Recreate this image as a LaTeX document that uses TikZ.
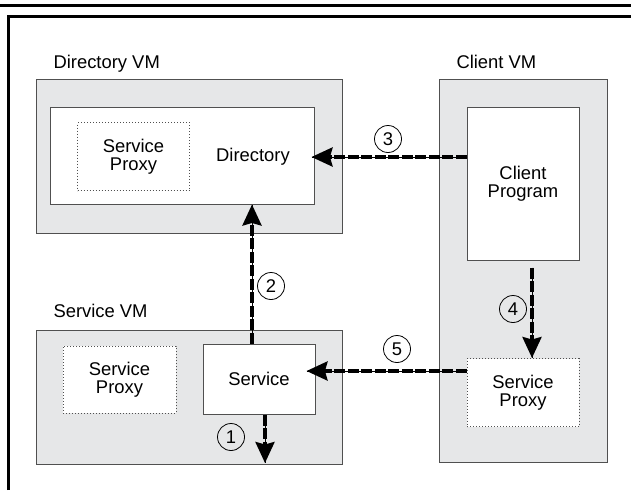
\documentclass[tikz,border=0pt]{standalone}
\usepackage{fontspec}
\setmainfont{Liberation Sans}
\usepackage{tikz}
\usetikzlibrary{arrows.meta}

\definecolor{vmgray}{HTML}{E6E7E8}
\definecolor{edgegray}{HTML}{505050}

\tikzset{
  vm/.style={draw=edgegray,fill=vmgray,line width=1pt,inner sep=0pt},
  innerbox/.style={draw=edgegray,fill=white,line width=1pt,inner sep=0pt,align=center},
  proxybox/.style={draw=edgegray,fill=white,line width=1pt,dash pattern=on 1pt off 2pt,inner sep=0pt,align=center,
    minimum width=112pt,minimum height=68pt},
  flow/.style={-{Stealth[length=21pt,width=19pt,inset=2.5pt]},line width=3.4pt,dash pattern=on 11pt off 2.5pt,
    preaction={draw,-,solid,line width=1pt}},
  stepmark/.style={circle,draw,line width=0.8pt,minimum size=27pt,inner sep=0pt},
}

\begin{document}
\begin{tikzpicture}[x=1pt,y=-1pt,font=\fontsize{18.4}{18}\selectfont]
  \useasboundingbox (0,0) rectangle (631,490);
  % page rule and frame
  \draw[line width=3pt] (0,5.5) -- (631,5.5);
  \draw[line width=3pt] (8,490) -- (8,16) -- (631,16);

  % the three VMs
  \node[vm,minimum width=306pt,minimum height=154pt] (dirvm) at (189,156) {};
  \node[vm,minimum width=168pt,minimum height=383pt] (clientvm) at (523,270.5) {};
  \node[vm,minimum width=306pt,minimum height=134pt] (servvm) at (189,397) {};
  \node[anchor=base west] (dirvmlbl) at (50,68) {Directory VM};
  \node[anchor=base west] (clientvmlbl) at (453,68) {Client VM};
  \node[anchor=base west] (servvmlbl) at (50,317) {Service VM};

  % directory VM
  \node[innerbox,minimum width=264pt,minimum height=97pt] (dirbox) at (182,155.5) {};
  \node[proxybox] (dirproxy) at (133.5,156.5) {Service\\Proxy};
  \node (dirlbl) at (253,157) {Directory};

  % client VM
  \node[innerbox,minimum width=112pt,minimum height=153pt] (clientprog) at (523,183.5) {Client\\Program};
  \node[proxybox] (clientproxy) at (523,392.5) {Service\\Proxy};

  % service VM
  \node[proxybox,minimum width=113pt,minimum height=67pt] (servproxy) at (119.5,379.5) {Service\\Proxy};
  \node[innerbox,minimum width=112pt,minimum height=70pt] (service) at (259,379) {Service};
  \coordinate (exit) at (265,463);

  % message flow
  \draw[flow] (service.south -| exit) -- (exit);
  \draw[flow] ([xshift=-7pt]service.north) -- ([xshift=-7pt]service.north |- dirbox.south);
  \draw[flow,shorten >=-3pt] (clientprog.west |- dirlbl) -- (dirbox.east |- dirlbl);
  \draw[flow] ([xshift=9pt,yshift=-7pt]clientprog.south) -- ([xshift=9pt]clientproxy.north);
  \draw[flow,shorten >=-9pt] ([yshift=8pt]service.east -| clientproxy.west) -- ([yshift=8pt]service.east);

  \node[stepmark] (s1) at (231,437) {1};
  \node[stepmark] (s2) at (271,286) {2};
  \node[stepmark] (s3) at (388,139) {3};
  \node[stepmark] (s4) at (513,309) {4};
  \node[stepmark] (s5) at (397,349) {5};
\end{tikzpicture}
\end{document}
